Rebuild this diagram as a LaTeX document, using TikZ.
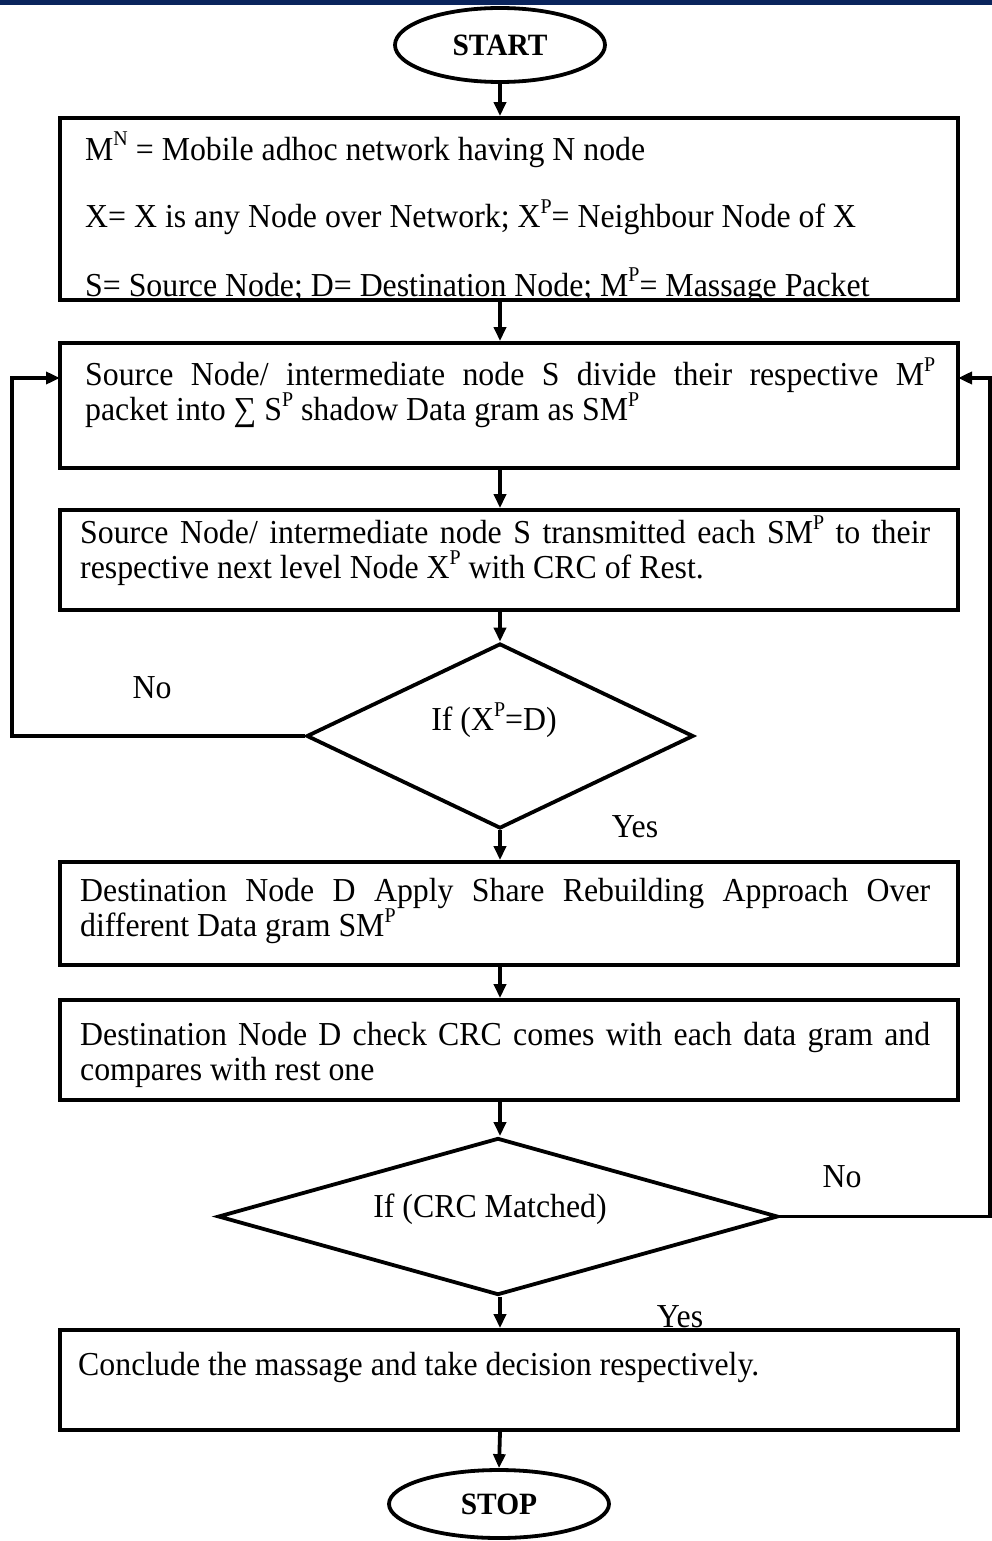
\documentclass[tikz,border=0pt]{standalone}
\usepackage{fontspec}
\setmainfont[FakeStretch=0.95]{Liberation Serif}
\usetikzlibrary{shapes.geometric,arrows.meta}
\definecolor{topbar}{RGB}{10,36,92}
\tikzset{
  lw/.style={line width=3.8pt},
  box/.style={draw,lw,rectangle,minimum width=898pt,inner sep=0pt},
  oval/.style={draw,lw,ellipse,inner sep=0pt,font=\fontsize{31}{34}\selectfont\bfseries},
  dia/.style={draw,lw,diamond,inner sep=0pt},
  txt/.style={inner sep=0pt,anchor=west,font=\fontsize{33.5}{35.5}\selectfont},
  para/.style={txt,text width=850pt,align=justify},
  lbl/.style={inner sep=0pt,font=\fontsize{33.5}{35.5}\selectfont},
  arr/.style={lw,-{Triangle[length=14pt,width=12pt]}},
  ln/.style={lw}
}
\newcommand{\supr}[1]{\raisebox{0.42em}[0pt][0pt]{\fontsize{21}{21}\selectfont #1}}
\newcommand{\sP}{\supr{P}}
\begin{document}
\begin{tikzpicture}[x=1pt,y=-1pt]
\useasboundingbox (0,0) rectangle (992,1541);
\fill[topbar] (0,0) rectangle (992,5);
% START
\node[oval,minimum width=210pt,minimum height=74pt] (start) at (500,45) {START};
% box 1
\node[txt] (t1a) at (85,152) {M\supr{N} = Mobile adhoc network having N node};
\node[txt] (t1b) at (85,219) {X= X is any Node over Network; X\sP= Neighbour Node of X};
\node[txt] (t1c) at (85,288) {S= Source Node; D= Destination Node; M\sP= Massage Packet};
\fill[white] (62,301) rectangle (956,320);
\node[box,minimum height=182pt] (b1) at (509,209) {};
% box 2
\node[box,minimum height=125pt] (b2) at (509,405.5) {};
\node[para] (t2) at (85,395) {Source Node/ intermediate node S divide their respective M\sP\linebreak packet into ∑ S\sP{} shadow Data gram as SM\sP};
% box 3
\node[box,minimum height=100pt] (b3) at (509,560) {};
\node[para] (t3) at (80,553) {Source Node/ intermediate node S transmitted each SM\sP{} to their\linebreak respective next level Node X\sP{} with CRC of Rest.};
% diamond 1
\node[dia,minimum width=387pt,minimum height=185pt] (d1) at (500,736) {};
\node[lbl] (q1) at (494,722) {If (X\sP=D)};
\node[lbl] (no1) at (152,688) {No};
\node[lbl] (yes1) at (635,827) {Yes};
% box 4
\node[box,minimum height=103pt] (b4) at (509,913.5) {};
\node[para] (t4) at (80,911) {Destination Node D Apply Share Rebuilding Approach Over\linebreak different Data gram SM\sP};
% box 5
\node[box,minimum height=100pt] (b5) at (509,1050) {};
\node[para] (t5) at (80,1055) {Destination Node D check CRC comes with each data gram and\linebreak compares with rest one};
% diamond 2
\node[dia,minimum width=560pt,minimum height=157pt] (d2) at (498,1216.5) {};
\node[lbl] (q2) at (490,1209) {If (CRC Matched)};
\node[lbl] (no2) at (842,1177) {No};
\node[lbl] (yes2) at (680,1317) {Yes};
% box 6
\node[box,minimum height=100pt] (b6) at (509,1380) {};
\node[txt] (t6) at (78,1367) {Conclude the massage and take decision respectively.};
% STOP
\node[oval,minimum width=220pt,minimum height=68pt] (stop) at (499,1504) {STOP};
% connectors
\coordinate (b2l) at (60,378);
\coordinate (b2r) at (958,378);
\coordinate (lft) at (12,0);
\coordinate (rgt) at (990,0);
\draw[arr] (start.south) -- (start.south |- b1.north);
\draw[arr] (start.south |- b1.south) -- (start.south |- b2.north);
\draw[arr] (start.south |- b2.south) -- (start.south |- b3.north);
\draw[arr] (start.south |- b3.south) -- (d1.north);
\draw[arr] (d1.south) -- (d1.south |- b4.north);
\draw[arr] (d1.south |- b4.south) -- (d1.south |- b5.north);
\draw[arr] (d1.south |- b5.south) -- (d1.south |- d2.north);
\draw[arr] (d1.south |- d2.south) -- (d1.south |- b6.north);
\draw[arr] (d1.south |- b6.south) -- (stop.north);
\draw[arr] (d1.west) -- (d1.west -| lft) |- (b2l);
\draw[arr] (d2.east) -- (d2.east -| rgt) |- (b2r);
\end{tikzpicture}
\end{document}
